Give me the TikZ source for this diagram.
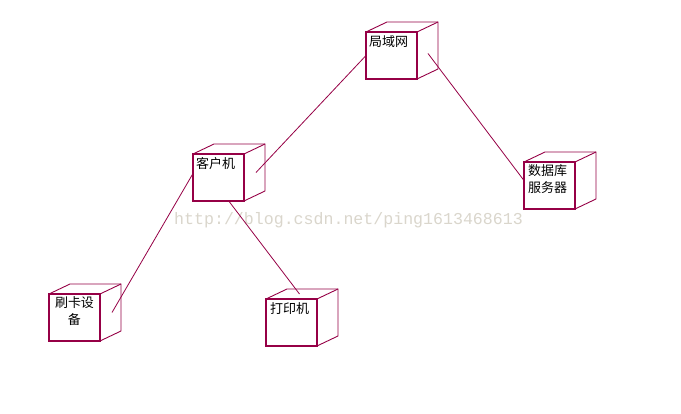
\documentclass[tikz,border=0pt]{standalone}
\usepackage{fontspec}
\newfontfamily\cjk{Noto Sans CJK SC}
\setmonofont{Liberation Mono}
\usetikzlibrary{calc}
\definecolor{edgec}{RGB}{150,0,70}
\definecolor{wmc}{RGB}{218,214,204}
\begin{document}
\begin{tikzpicture}[x=1pt,y=-1pt,
  front/.style={draw=edgec, line width=1.1pt, minimum width=51pt, minimum height=47pt, inner sep=0pt, outer sep=0pt},
  boldedge/.style={draw=edgec, line width=2pt},
  depthline/.style={draw=edgec, line width=0.9pt},
  link/.style={draw=edgec, line width=0.8pt},
  lbl/.style={font=\cjk\fontsize{13}{17}\selectfont, inner sep=0pt, text=black}]
\useasboundingbox[fill=white] (0,0) rectangle (681,414);

% watermark
\node[anchor=base west, inner sep=0pt, text=wmc, font=\ttfamily\fontsize{16.6}{18}\selectfont] (wm) at (174,225) {http://blog.csdn.net/ping1613468613};

% front faces
\node[front] (lan) at (391.5,55.5) {};
\node[front] (client) at (218.5,177.5) {};
\node[front] (db) at (549.5,185.5) {};
\node[front] (card) at (74.5,317.5) {};
\node[front] (printer) at (291.5,322.5) {};

% cube depth edges and bold right edge
\foreach \n in {lan,client,db,card,printer}{
  \draw[depthline] (\n.north west) -- ++(21,-10) coordinate (\n-tl) -- ++(51,0) coordinate (\n-tr) -- ++(0,47) -- (\n.south east);
  \draw[depthline] (\n.north east) -- (\n-tr);
  \draw[boldedge] (\n.north east) -- (\n.south east);
}

% labels
\node[lbl, anchor=north west] (lanT) at ($(lan.north west)+(3,3)$) {局域网};
\node[lbl, anchor=north west] (clientT) at ($(client.north west)+(3,3)$) {客户机};
\node[lbl, anchor=north west, align=left] (dbT) at ($(db.north west)+(4,2)$) {数据库\\服务器};
\node[lbl, anchor=north, align=center] (cardT) at ($(card.north)+(0,2)$) {刷卡设\\备};
\node[lbl, anchor=north west] (printerT) at ($(printer.north west)+(4,3)$) {打印机};

% connectors
\draw[link] (lan.west) -- ($(client.east)+(12,-5)$);
\draw[link] ($(lan.east)+(11,-2)$) -- ($(db.west)+(0,-5)$);
\draw[link] ($(client.west)+(0,-4)$) -- ($(card.east)+(12,-5)$);
\draw[link] ($(client.south)+(11,1)$) -- ($(printer.north)+(8,-5)$);
\end{tikzpicture}
\end{document}
